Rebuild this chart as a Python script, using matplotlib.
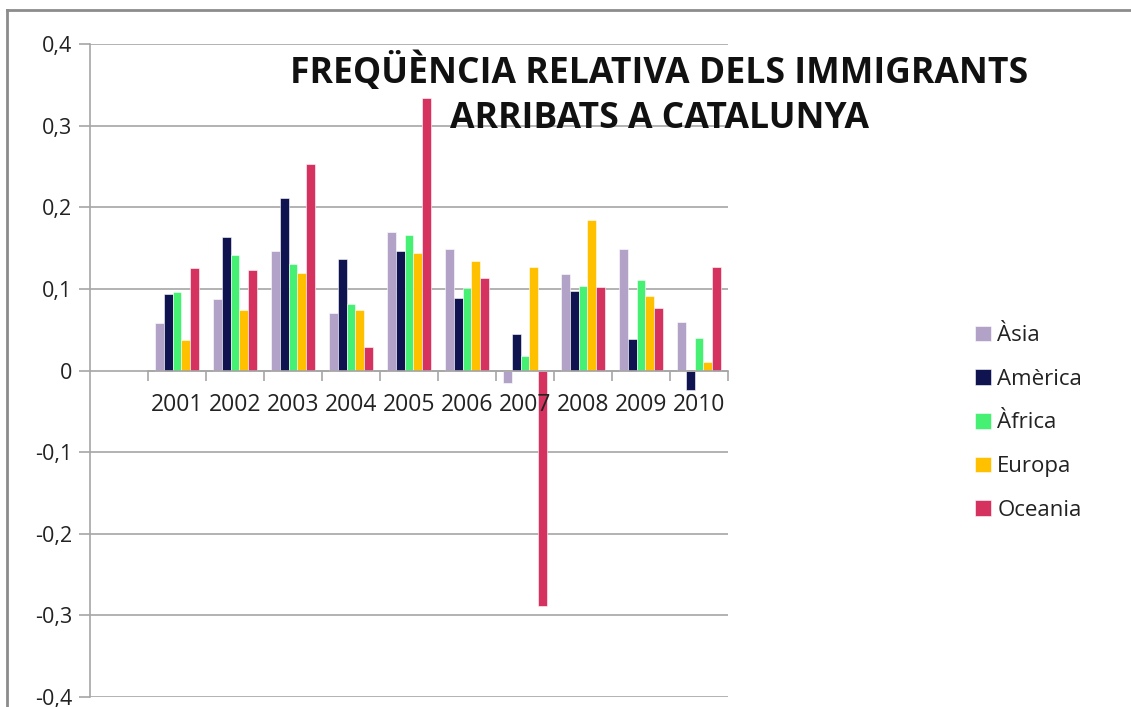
import numpy as np
import matplotlib
matplotlib.use("Agg")
import matplotlib.pyplot as plt
from matplotlib.lines import Line2D

plt.rcParams['font.family'] = ['Open Sans', 'DejaVu Sans']

years = ['2001', '2002', '2003', '2004', '2005', '2006', '2007', '2008', '2009', '2010']
regions = ['Àsia', 'Amèrica', 'Àfrica', 'Europa', 'Oceania']
colors = ['#b3a2c7', '#0f1450', '#46f073', '#ffc000', '#d6325f']

asia    = [0.058, 0.088, 0.147, 0.071, 0.170, 0.149, -0.015, 0.118, 0.149, 0.059]
america = [0.094, 0.163, 0.211, 0.137, 0.146, 0.089, 0.045, 0.098, 0.038, -0.024]
africa  = [0.096, 0.141, 0.131, 0.081, 0.166, 0.101, 0.018, 0.104, 0.111, 0.040]
europa  = [0.037, 0.074, 0.120, 0.074, 0.144, 0.134, 0.127, 0.184, 0.091, 0.011]
oceania = [0.126, 0.123, 0.253, 0.029, 0.334, 0.113, -0.289, 0.102, 0.076, 0.127]
series = [asia, america, africa, europa, oceania]

W, H = 1131, 707
fig = plt.figure(figsize=(W / 100, H / 100), dpi=100)
ax = fig.add_axes([90 / W, 10 / H, 638 / W, 653 / H])

yticks = np.arange(-0.4, 0.41, 0.1)
# gridlines drawn under the bars, axis (and year labels) drawn over them
for yv in yticks:
    ax.axhline(yv, color='#a6a6a6', linewidth=1.2, zorder=0.5)

x = np.arange(len(years))
bw = 0.152
for i, (vals, c, name) in enumerate(zip(series, colors, regions)):
    ax.bar(x + (i - 2) * bw, vals, bw, color=c, label=name, zorder=1,
           edgecolor='white', linewidth=0.4)

ax.set_xlim(-1.5, 9.5)
ax.set_ylim(-0.4, 0.4)
ax.set_yticks(yticks)
ax.set_yticklabels(['-0,4', '-0,3', '-0,2', '-0,1', '0', '0,1', '0,2', '0,3', '0,4'])
ax.tick_params(axis='y', length=8, width=1.2, color='#a6a6a6', labelsize=15.5,
               pad=5, labelcolor='#222222')

# category axis sits on the zero line
for s in ['top', 'right']:
    ax.spines[s].set_visible(False)
ax.spines['left'].set_color('#a6a6a6')
ax.spines['left'].set_linewidth(1.2)
ax.spines['bottom'].set_position(('data', 0))
ax.spines['bottom'].set_color('#a6a6a6')
ax.spines['bottom'].set_linewidth(1.2)
ax.spines['bottom'].set_bounds(-0.5, 9.5)
ax.set_xticks(np.arange(-0.5, 9.6, 1.0))
ax.set_xticklabels([])
ax.set_xticks(x, minor=True)
ax.set_xticklabels(years, minor=True)
ax.tick_params(axis='x', which='major', length=7, width=1.2, color='#a6a6a6', direction='out')
ax.tick_params(axis='x', which='minor', length=0, labelsize=16.5, pad=16, labelcolor='#222222')

fig.text(659 / W, 1 - 95 / H, 'FREQÜÈNCIA RELATIVA DELS IMMIGRANTS\nARRIBATS A CATALUNYA',
         ha='center', va='center', fontsize=25.6, fontweight='bold', linespacing=1.35,
         color='#111111')

fig.legend(loc='center left', bbox_to_anchor=(955 / W, 1 - 423 / H), frameon=False,
           fontsize=16, handlelength=0.7, handleheight=0.7, handletextpad=0.3,
           labelspacing=1.02, labelcolor='#222222')

# chart frame edges
fig.add_artist(Line2D([7 / W, 7 / W], [0, 1 - 10 / H], color='#8c8c8c', linewidth=2))
fig.add_artist(Line2D([7 / W, 1], [1 - 10 / H, 1 - 10 / H], color='#8c8c8c', linewidth=2))

fig.savefig('out.png', dpi=100, facecolor='white')
